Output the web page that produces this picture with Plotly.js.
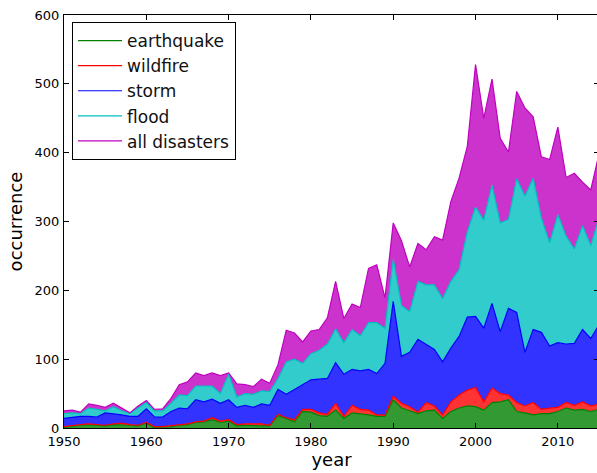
<!DOCTYPE html>
<html>
<head>
<meta charset="utf-8">
<script src="https://cdn.plot.ly/plotly-3.0.1.min.js"></script>
<style>
html, body { margin: 0; padding: 0; overflow: hidden; background: #fff; }
#chart { width: 620px; height: 473px; }
</style>
</head>
<body>
<div id="chart"></div>
<script>
// Years 1950-2015
const years = [];
for (let y = 1950; y <= 2015; y++) years.push(y);

// Yearly counts per disaster type
const earthquake = [1,3,4,5,4,3,5,5,4,3, 7,1,1,2,4,5,8,9,12,8, 10,3,4,3,3,3,18,14,9,24, 23,18,17,26,14,22,21,19,17,17, 41,29,25,21,25,26,14,24,29,32, 31,26,37,38,41,24,22,19,21,21, 24,29,26,27,24,27];
const wildfire = [1,1,1,1,1,1,1,2,1,1, 1,1,1,1,1,1,1,1,3,2, 2,2,2,3,3,1,2,1,3,3, 4,4,3,10,3,11,6,7,2,2, 5,7,6,2,12,6,5,14,19,23, 28,12,21,12,7,13,10,18,6,8, 6,8,7,11,8,8];
const storm = [12,12,12,11,11,18,15,12,12,13, 20,14,14,21,24,22,32,28,27,26, 29,25,27,24,29,29,36,34,44,36, 43,49,52,59,61,52,56,59,60,75, 138,68,79,106,84,82,77,78,85,106, 103,107,123,90,126,131,78,106,112,90, 94,85,90,105,98,115];
const flood = [7,6,4,12,11,3,10,6,4,12, 9,9,9,12,19,19,20,23,19,14, 37,15,17,19,19,20,16,47,44,31, 38,42,50,49,46,58,51,68,74,51, 61,74,59,84,87,94,92,97,97,124, 159,157,172,158,129,194,227,220,166,150, 186,157,137,151,135,155];
const allDisasters = [25,26,23,35,33,30,36,29,22,32, 40,27,28,43,63,67,80,76,80,76, 80,64,63,60,71,65,92,142,138,125, 141,143,160,213,159,180,175,232,237,189, 298,272,234,268,259,278,273,329,363,409, 528,450,507,421,401,489,465,452,394,390, 437,364,370,357,346,398];

const names = ['earthquake', 'wildfire', 'storm', 'flood', 'all disasters'];
const lineColors = ['#008000', '#ff0000', '#0000ff', '#00bfbf', '#bf00bf'];
const fillColors = ['rgba(0,128,0,0.8)', 'rgba(255,0,0,0.8)', 'rgba(0,0,255,0.8)', 'rgba(0,191,191,0.8)', 'rgba(191,0,191,0.8)'];

// stacked boundaries
const parts = [earthquake, wildfire, storm, flood];
const tops = [];
let run = years.map(() => 0);
parts.forEach(p => {
  run = run.map((v, i) => v + p[i]);
  tops.push(run.slice());
});
tops.push(allDisasters.slice());

const font = "DejaVu Sans, Bitstream Vera Sans, sans-serif";
const traces = [];
tops.forEach((t, k) => {
  traces.push({
    x: years, y: t, type: 'scatter', mode: 'lines',
    fill: k === 0 ? 'tozeroy' : 'tonexty',
    fillcolor: fillColors[k],
    line: { width: 0, color: lineColors[k] },
    showlegend: false, legendgroup: names[k], hoverinfo: 'skip'
  });
  traces.push({
    x: years, y: t, type: 'scatter', mode: 'lines',
    name: names[k],
    line: { width: 1.2, color: lineColors[k] },
    legendgroup: names[k], hoverinfo: 'skip'
  });
});

const axisCommon = {
  showline: true, linecolor: '#000', linewidth: 1, mirror: 'ticks',
  ticks: 'inside', ticklen: 5, tickcolor: '#000', tickwidth: 1,
  showgrid: false, zeroline: false,
  tickfont: { family: font, size: 13, color: '#000' }
};

const layout = {
  width: 620, height: 473,
  margin: { l: 64, r: 21, t: 15, b: 45 },
  paper_bgcolor: '#fff', plot_bgcolor: '#fff',
  font: { family: font, color: '#000' },
  xaxis: Object.assign({}, axisCommon, {
    range: [1950, 2015], tickmode: 'array',
    tickvals: [1950, 1960, 1970, 1980, 1990, 2000, 2010],
    ticklabelstandoff: 1,
    title: { text: 'year', font: { family: font, size: 18, color: '#000' }, standoff: 5 }
  }),
  yaxis: Object.assign({}, axisCommon, {
    range: [0, 600], tickmode: 'linear', tick0: 0, dtick: 100,
    ticklabelstandoff: 1,
    title: { text: 'occurrence', font: { family: font, size: 18, color: '#000' }, standoff: 7 }
  }),
  legend: {
    x: 0.015, y: 0.983, xanchor: 'left', yanchor: 'top',
    bgcolor: '#fff', bordercolor: '#000', borderwidth: 1,
    font: { family: font, size: 17, color: '#111' },
    traceorder: 'grouped', tracegroupgap: 0, itemwidth: 44
  },
  showlegend: true
};

Plotly.newPlot('chart', traces, layout, { displayModeBar: false, staticPlot: true });
</script>
</body>
</html>
